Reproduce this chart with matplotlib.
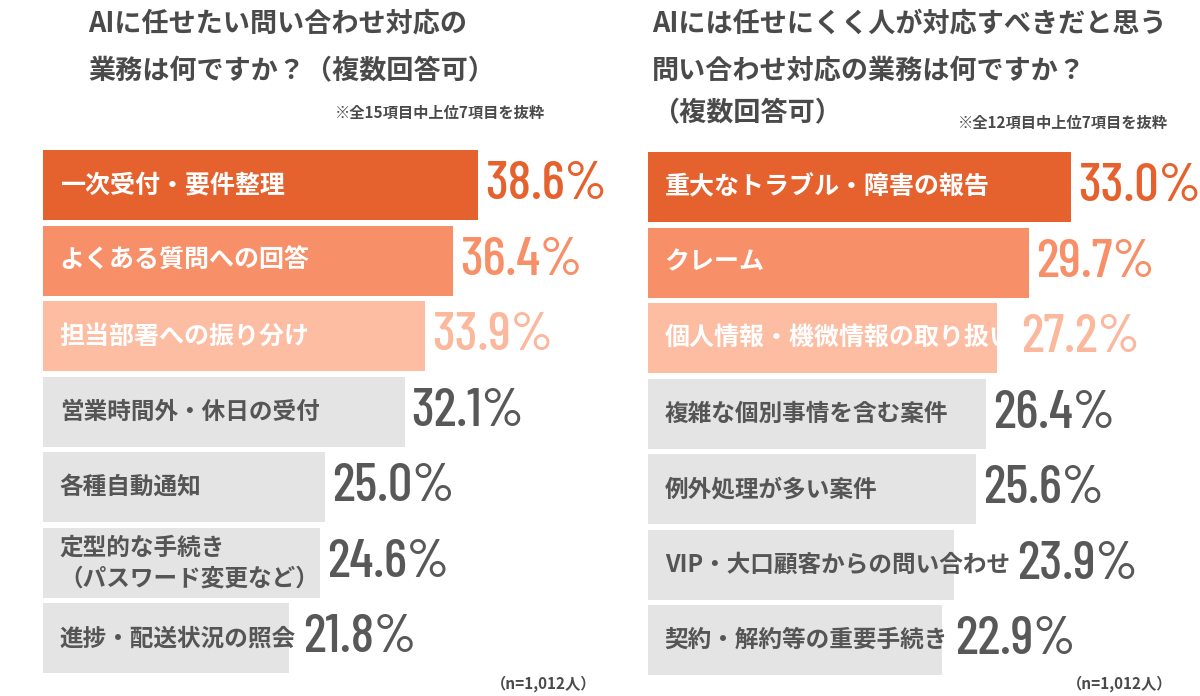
import matplotlib
matplotlib.use('Agg')
import matplotlib.pyplot as plt
from matplotlib import font_manager as fm

plt.rcParams['font.family'] = ['Noto Sans CJK JP', 'DejaVu Sans']

# data
left_labels = ['一次受付・要件整理', 'よくある質問への回答', '担当部署への振り分け',
               '営業時間外・休日の受付', '各種自動通知',
               '定型的な手続き\n（パスワード変更など）', '進捗・配送状況の照会']
left_values = [38.6, 36.4, 33.9, 32.1, 25.0, 24.6, 21.8]

right_labels = ['重大なトラブル・障害の報告', 'クレーム', '個人情報・機微情報の取り扱い',
                '複雑な個別事情を含む案件', '例外処理が多い案件',
                'VIP・大口顧客からの問い合わせ', '契約・解約等の重要手続き']
right_values = [33.0, 29.7, 27.2, 26.4, 25.6, 23.9, 22.9]

bar_colors = ['#E5622F', '#F79068', '#FCBDA3', '#E4E4E4', '#E4E4E4', '#E4E4E4', '#E4E4E4']
val_colors = ['#E5622F', '#F79068', '#FBB89C', '#585858', '#585858', '#585858', '#585858']
lab_colors = ['white', 'white', 'white', '#555555', '#555555', '#555555', '#555555']

# condensed font for the percentages
names = {f.name for f in fm.fontManager.ttflist}
num_font = 'DejaVu Sans'
for cand in ['Barlow Condensed', 'Roboto Condensed', 'Liberation Sans Narrow']:
    if cand in names:
        num_font = cand
        break

W, H = 1200, 696
fig = plt.figure(figsize=(12, 6.96), dpi=100)
renderer = fig.canvas.get_renderer()


def panel(left_px, width_px, scale, top_px, labels, values):
    bottom_px = top_px + 528.5
    ax = fig.add_axes([left_px / W, 1 - bottom_px / H, width_px / W, 528.5 / H])
    ys = range(len(values))
    ax.barh(ys, values, height=0.93, color=bar_colors)
    ax.set_xlim(0, width_px / scale)
    ax.set_ylim(6.5, -0.5)
    ax.axis('off')
    for i, (lab, v) in enumerate(zip(labels, values)):
        fs = 18 if i < 3 else 17
        t = ax.annotate(lab, xy=(0, i), xytext=(12, 0), textcoords='offset points',
                        va='center', ha='left', fontsize=fs, fontweight='bold',
                        color=lab_colors[i], linespacing=1.35)
        # the value goes after the bar, or after the label when it runs past the bar
        lab_end = ax.transData.inverted().transform(
            (t.get_window_extent(renderer).x1, 0))[0]
        ax.annotate(f'{v:.1f}%', xy=(max(v, lab_end), i), xytext=(5, 0),
                    textcoords='offset points', va='center', ha='left', fontsize=39,
                    family=[num_font, 'DejaVu Sans'], fontweight='medium',
                    color=val_colors[i])
    return ax


panel(43, 557, 11.27, 147.5, left_labels, left_values)
panel(648, 552, 12.82, 149.5, right_labels, right_values)

title_kw = dict(fontsize=19.5, fontweight='bold', color='#4a4a4a', va='center', ha='left')
fig.text(88 / W, 1 - 24 / H, 'AIに任せたい問い合わせ対応の', **title_kw)
fig.text(88 / W, 1 - 71 / H, '業務は何ですか？（複数回答可）', **title_kw)
fig.text(652 / W, 1 - 24 / H, 'AIには任せにくく人が対応すべきだと思う', **title_kw)
fig.text(652 / W, 1 - 71 / H, '問い合わせ対応の業務は何ですか？', **title_kw)
fig.text(652 / W, 1 - 113 / H, '（複数回答可）', **title_kw)

note_kw = dict(fontsize=11, fontweight='bold', color='#4a4a4a', va='center', ha='right')
fig.text(545 / W, 1 - 113 / H, '※全15項目中上位7項目を抜粋', **note_kw)
fig.text(1168 / W, 1 - 123 / H, '※全12項目中上位7項目を抜粋', **note_kw)
fig.text(596 / W, 1 - 684 / H, '（n=1,012人）', **note_kw)
fig.text(1172 / W, 1 - 684 / H, '（n=1,012人）', **note_kw)

fig.savefig('out.png', dpi=100)
